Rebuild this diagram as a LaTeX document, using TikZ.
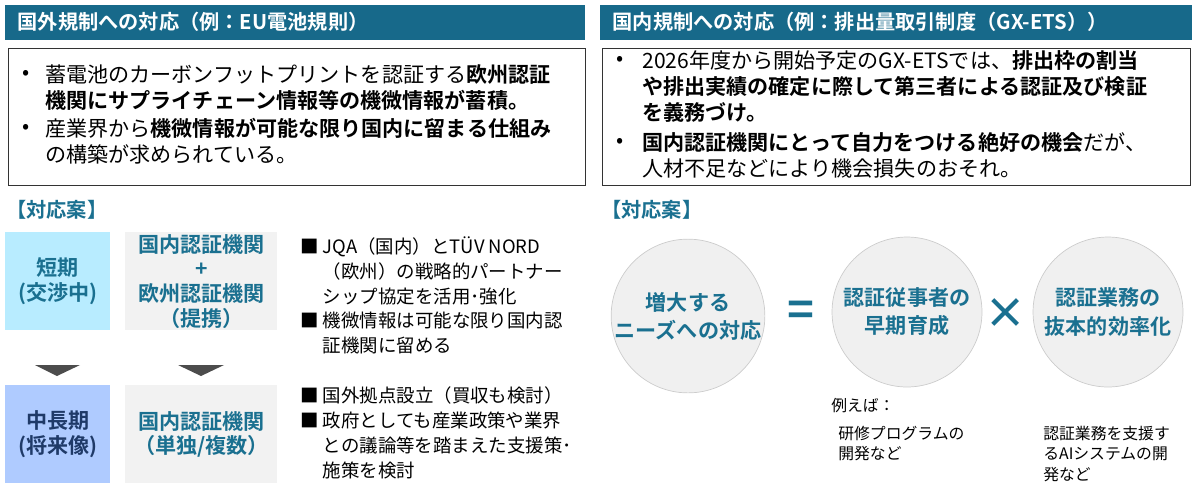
\documentclass[tikz,border=0pt]{standalone}
\usepackage{fontspec}
\setmainfont{Noto Sans CJK JP}[BoldFont={* Bold}]
\usetikzlibrary{positioning}
\definecolor{teal1}{HTML}{17698A}
\definecolor{tealtxt}{HTML}{1A7090}
\definecolor{navy1}{HTML}{1F3A68}
\definecolor{cyanbox}{HTML}{B8ECFF}
\definecolor{bluebox}{HTML}{AFCBFF}
\definecolor{graybox}{HTML}{F2F2F2}
\tikzset{
  header/.style={fill=teal1, text=white, font=\bfseries\fontsize{11.5}{12}\selectfont, anchor=west, inner xsep=7pt},
  body/.style={anchor=north west, align=left, font=\fontsize{12}{15}\selectfont, inner sep=0pt},
  bul/.style={anchor=north west, font=\fontsize{12}{15}\selectfont, inner sep=0pt},
  plan/.style={text=tealtxt, font=\bfseries\fontsize{11.5}{12}\selectfont, anchor=west, inner sep=0pt},
  phase/.style={align=center, font=\bfseries\fontsize{12}{14}\selectfont, inner sep=0pt},
  tri/.style={fill=black!70, draw=none},
  idea/.style={circle, draw=black!20, fill=black!6, minimum size=3cm, inner sep=0pt, align=center, text=tealtxt, font=\bfseries\fontsize{12}{16}\selectfont},
  note/.style={anchor=north west, align=left, font=\fontsize{9}{11.5}\selectfont, inner sep=0pt}
}
\begin{document}
\begin{tikzpicture}[x=0.02cm, y=-0.02cm]
\useasboundingbox (0,0) rectangle (1199,484);
% headers
\fill[teal1] (5,5) rectangle (585,40);
\fill[teal1] (600,5) rectangle (1192,40);
\node[header] (hl) at (5,22) {国外規制への対応（例：EU電池規則）};
\node[header] (hr) at (600,22) {国内規制への対応（例：排出量取引制度（GX-ETS））};
% left box
\draw[black!80] (8,48) rectangle (585,185);
\node[bul] (lb1) at (22,70) {•};
\node[body] (lt1) at (45,64) {蓄電池のカーボンフットプリントを認証する\textbf{欧州認証}\\\textbf{機関にサプライチェーン情報等の機微情報が蓄積。}};
\node[bul] (lb2) at (22,124) {•};
\node[body] (lt2) at (45,118) {産業界から\textbf{機微情報が可能な限り国内に留まる仕組み}\\の構築が求められている。};
% right box
\draw[black!80] (602,48) rectangle (1190,185);
\node[bul] (rb1) at (616,56) {•};
\node[body] (rt1) at (642,50) {2026年度から開始予定のGX-ETSでは、\textbf{排出枠の割当}\\\textbf{や排出実績の確定に際して第三者による認証及び検証}\\\textbf{を義務づけ。}};
\node[bul] (rb2) at (616,138) {•};
\node[body] (rt2) at (642,132) {\textbf{国内認証機関にとって自力をつける絶好の機会}だが、\\人材不足などにより機会損失のおそれ。};
% plans
\node[plan] (pl) at (6,210) {【対応案】};
\node[plan] (pr) at (601,210) {【対応案】};
% left phases
\node[phase, fill=cyanbox, text=tealtxt, minimum width=2.1cm, minimum height=1.96cm, anchor=north west] (short) at (5,232) {短期\\(交渉中)};
\node[phase, fill=graybox, text=tealtxt, minimum width=3.04cm, minimum height=1.96cm, anchor=north west] (pair) at (125,232) {国内認証機関\\+\\欧州認証機関\\（提携）};
\node[phase, fill=bluebox, text=navy1, minimum width=2.1cm, minimum height=1.96cm, anchor=north west] (long) at (5,385) {中長期\\(将来像)};
\node[phase, fill=graybox, text=tealtxt, minimum width=3.04cm, minimum height=1.96cm, anchor=north west] (solo) at (125,385) {国内認証機関\\（単独/複数）};
\fill[tri] (35,365) -- (80,365) -- (57,376) -- cycle;
\fill[tri] (178,365) -- (224,365) -- (201,376) -- cycle;
\node[body, font=\fontsize{10.5}{14.2}\selectfont] (st) at (300,236) {■ JQA（国内）とTÜV NORD\\\phantom{■ }（欧州）の戦略的パートナー\\\phantom{■ }シップ協定を活用･強化\\■ 機微情報は可能な限り国内認\\\phantom{■ }証機関に留める};
\node[body, font=\fontsize{10.5}{14.2}\selectfont] (lt) at (300,386) {■ 国外拠点設立（買収も検討）\\■ 政府としても産業政策や業界\\\phantom{■ }との議論等を踏まえた支援策･\\\phantom{■ }施策を検討};
% right equation
\node[idea] (need) at (688,316) {増大する\\ニーズへの対応};
\node[idea] (train) at (907,312) {認証従事者の\\早期育成};
\node[idea] (eff) at (1108,312) {認証業務の\\抜本的効率化};
\node[text=tealtxt, font=\bfseries\fontsize{26}{26}\selectfont] (eq) at (801,314) {=};
\node[text=tealtxt, font=\bfseries\fontsize{24}{24}\selectfont] (times) at (1006,314) {×};
\node[note] (eg) at (831,398) {例えば：};
\node[note] (n1) at (838,426) {研修プログラムの\\開発など};
\node[note] (n2) at (1043,426) {認証業務を支援す\\るAIシステムの開\\発など};
\end{tikzpicture}
\end{document}
